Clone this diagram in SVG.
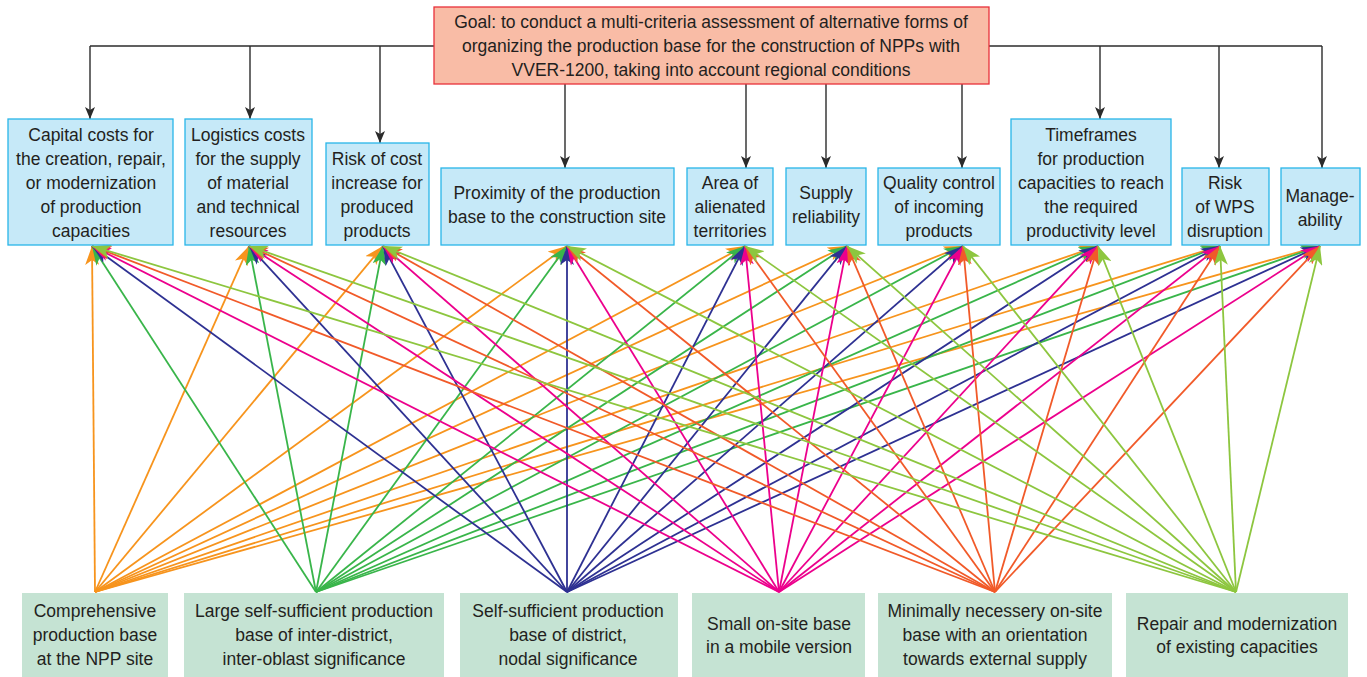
<svg xmlns="http://www.w3.org/2000/svg" width="1367" height="677" viewBox="0 0 1367 677">
<style>
text{font-family:"Liberation Sans",Arial,sans-serif;font-size:17.5px;fill:#231f20;text-anchor:middle}
.goal{fill:#f9bca6;stroke:#e8303a;stroke-width:1.3}
.crit{fill:#c6e9f8;stroke:#29b6e8;stroke-width:1.3}
.alt{fill:#c5e3d3;stroke:none}
.top line{stroke:#2b2b2b;stroke-width:1.4;marker-end:url(#mk)}
.top .nm{marker-end:none}
.l{stroke-width:1.8;fill:none}
.or{stroke:#f7941d;marker-end:url(#m-or)}
.gr{stroke:#39b54a;marker-end:url(#m-gr)}
.nv{stroke:#2e3192;marker-end:url(#m-nv)}
.mg{stroke:#ec008c;marker-end:url(#m-mg)}
.rd{stroke:#f15a29;marker-end:url(#m-rd)}
.yg{stroke:#8dc63f;marker-end:url(#m-yg)}
</style>
<defs>
<marker id="mk" markerUnits="userSpaceOnUse" markerWidth="13" markerHeight="10" refX="12" refY="5" orient="auto"><path d="M0,0 L12,5 L0,10 L3,5 z" fill="#2b2b2b"/></marker>
<marker id="m-or" markerUnits="userSpaceOnUse" markerWidth="20" markerHeight="14" refX="19" refY="7" orient="auto"><path d="M0,0 L19,7 L0,14 L5,7 z" fill="#f7941d"/></marker>
<marker id="m-gr" markerUnits="userSpaceOnUse" markerWidth="20" markerHeight="14" refX="19" refY="7" orient="auto"><path d="M0,0 L19,7 L0,14 L5,7 z" fill="#39b54a"/></marker>
<marker id="m-nv" markerUnits="userSpaceOnUse" markerWidth="20" markerHeight="14" refX="19" refY="7" orient="auto"><path d="M0,0 L19,7 L0,14 L5,7 z" fill="#2e3192"/></marker>
<marker id="m-mg" markerUnits="userSpaceOnUse" markerWidth="20" markerHeight="14" refX="19" refY="7" orient="auto"><path d="M0,0 L19,7 L0,14 L5,7 z" fill="#ec008c"/></marker>
<marker id="m-rd" markerUnits="userSpaceOnUse" markerWidth="20" markerHeight="14" refX="19" refY="7" orient="auto"><path d="M0,0 L19,7 L0,14 L5,7 z" fill="#f15a29"/></marker>
<marker id="m-yg" markerUnits="userSpaceOnUse" markerWidth="20" markerHeight="14" refX="19" refY="7" orient="auto"><path d="M0,0 L19,7 L0,14 L5,7 z" fill="#8dc63f"/></marker>
</defs>
<rect width="1367" height="677" fill="#ffffff"/>

<g id="connectors">
<g class="top">
<line class="nm" x1="90" y1="46" x2="434" y2="46"/>
<line class="nm" x1="989" y1="46" x2="1322" y2="46"/>
<line x1="90" y1="46" x2="90" y2="119"/>
<line x1="250" y1="46" x2="250" y2="119"/>
<line x1="380" y1="46" x2="380" y2="143"/>
<line x1="1100" y1="46" x2="1100" y2="119"/>
<line x1="1219" y1="46" x2="1219" y2="168"/>
<line x1="1322" y1="46" x2="1322" y2="168"/>
<line x1="565" y1="84" x2="565" y2="168"/>
<line x1="746" y1="84" x2="746" y2="168"/>
<line x1="826" y1="84" x2="826" y2="168"/>
<line x1="962" y1="84" x2="962" y2="168"/>
</g>
<g class="l or">
<line x1="95" y1="592" x2="92" y2="246"/>
<line x1="95" y1="592" x2="249" y2="246"/>
<line x1="95" y1="592" x2="383" y2="246"/>
<line x1="95" y1="592" x2="567" y2="246"/>
<line x1="95" y1="592" x2="745" y2="246"/>
<line x1="95" y1="592" x2="847" y2="246"/>
<line x1="95" y1="592" x2="963" y2="246"/>
<line x1="95" y1="592" x2="1098" y2="246"/>
<line x1="95" y1="592" x2="1220" y2="246"/>
<line x1="95" y1="592" x2="1320" y2="246"/>
</g>
<g class="l gr">
<line x1="316" y1="592" x2="92" y2="246"/>
<line x1="316" y1="592" x2="249" y2="246"/>
<line x1="316" y1="592" x2="383" y2="246"/>
<line x1="316" y1="592" x2="567" y2="246"/>
<line x1="316" y1="592" x2="745" y2="246"/>
<line x1="316" y1="592" x2="847" y2="246"/>
<line x1="316" y1="592" x2="963" y2="246"/>
<line x1="316" y1="592" x2="1098" y2="246"/>
<line x1="316" y1="592" x2="1220" y2="246"/>
<line x1="316" y1="592" x2="1320" y2="246"/>
</g>
<g class="l nv">
<line x1="567" y1="592" x2="92" y2="246"/>
<line x1="567" y1="592" x2="249" y2="246"/>
<line x1="567" y1="592" x2="383" y2="246"/>
<line x1="567" y1="592" x2="567" y2="246"/>
<line x1="567" y1="592" x2="745" y2="246"/>
<line x1="567" y1="592" x2="847" y2="246"/>
<line x1="567" y1="592" x2="963" y2="246"/>
<line x1="567" y1="592" x2="1098" y2="246"/>
<line x1="567" y1="592" x2="1220" y2="246"/>
<line x1="567" y1="592" x2="1320" y2="246"/>
</g>
<g class="l mg">
<line x1="779" y1="592" x2="92" y2="246"/>
<line x1="779" y1="592" x2="249" y2="246"/>
<line x1="779" y1="592" x2="383" y2="246"/>
<line x1="779" y1="592" x2="567" y2="246"/>
<line x1="779" y1="592" x2="745" y2="246"/>
<line x1="779" y1="592" x2="847" y2="246"/>
<line x1="779" y1="592" x2="963" y2="246"/>
<line x1="779" y1="592" x2="1098" y2="246"/>
<line x1="779" y1="592" x2="1220" y2="246"/>
<line x1="779" y1="592" x2="1320" y2="246"/>
</g>
<g class="l rd">
<line x1="995" y1="592" x2="92" y2="246"/>
<line x1="995" y1="592" x2="249" y2="246"/>
<line x1="995" y1="592" x2="383" y2="246"/>
<line x1="995" y1="592" x2="567" y2="246"/>
<line x1="995" y1="592" x2="745" y2="246"/>
<line x1="995" y1="592" x2="847" y2="246"/>
<line x1="995" y1="592" x2="963" y2="246"/>
<line x1="995" y1="592" x2="1098" y2="246"/>
<line x1="995" y1="592" x2="1220" y2="246"/>
<line x1="995" y1="592" x2="1320" y2="246"/>
</g>
<g class="l yg">
<line x1="1236" y1="592" x2="92" y2="246"/>
<line x1="1236" y1="592" x2="249" y2="246"/>
<line x1="1236" y1="592" x2="383" y2="246"/>
<line x1="1236" y1="592" x2="567" y2="246"/>
<line x1="1236" y1="592" x2="745" y2="246"/>
<line x1="1236" y1="592" x2="847" y2="246"/>
<line x1="1236" y1="592" x2="963" y2="246"/>
<line x1="1236" y1="592" x2="1098" y2="246"/>
<line x1="1236" y1="592" x2="1220" y2="246"/>
<line x1="1236" y1="592" x2="1320" y2="246"/>
</g>
</g>

<g id="goal">
<rect class="goal" x="434" y="7" width="555" height="77"/>
<text x="711" y="28">Goal: to conduct a multi-criteria assessment of alternative forms of</text>
<text x="711" y="52">organizing the production base for the construction of NPPs with</text>
<text x="711" y="76">VVER-1200, taking into account regional conditions</text>
</g>

<g id="crit-capital">
<rect class="crit" x="8" y="119" width="165" height="126"/>
<text x="91" y="141">Capital costs for</text>
<text x="91" y="165">the creation, repair,</text>
<text x="91" y="189">or modernization</text>
<text x="91" y="213">of production</text>
<text x="91" y="237">capacities</text>
</g>
<g id="crit-logistics">
<rect class="crit" x="185" y="119" width="127" height="126"/>
<text x="248" y="141">Logistics costs</text>
<text x="248" y="165">for the supply</text>
<text x="248" y="189">of material</text>
<text x="248" y="213">and technical</text>
<text x="248" y="237">resources</text>
</g>
<g id="crit-risk-cost">
<rect class="crit" x="326" y="143" width="103" height="102"/>
<text x="377" y="165">Risk of cost</text>
<text x="377" y="189">increase for</text>
<text x="377" y="213">produced</text>
<text x="377" y="237">products</text>
</g>
<g id="crit-proximity">
<rect class="crit" x="441" y="168" width="233" height="77"/>
<text x="557" y="199">Proximity of the production</text>
<text x="557" y="223">base to the construction site</text>
</g>
<g id="crit-area">
<rect class="crit" x="687" y="168" width="86" height="77"/>
<text x="730" y="189">Area of</text>
<text x="730" y="213">alienated</text>
<text x="730" y="237">territories</text>
</g>
<g id="crit-supply">
<rect class="crit" x="786" y="168" width="80" height="77"/>
<text x="826" y="199">Supply</text>
<text x="826" y="223">reliability</text>
</g>
<g id="crit-quality">
<rect class="crit" x="878" y="168" width="122" height="77"/>
<text x="939" y="189">Quality control</text>
<text x="939" y="213">of incoming</text>
<text x="939" y="237">products</text>
</g>
<g id="crit-timeframes">
<rect class="crit" x="1011" y="119" width="160" height="126"/>
<text x="1091" y="141">Timeframes</text>
<text x="1091" y="165">for production</text>
<text x="1091" y="189">capacities to reach</text>
<text x="1091" y="213">the required</text>
<text x="1091" y="237">productivity level</text>
</g>
<g id="crit-wps">
<rect class="crit" x="1182" y="168" width="87" height="77"/>
<text x="1225" y="189">Risk</text>
<text x="1225" y="213">of WPS</text>
<text x="1225" y="237">disruption</text>
</g>
<g id="crit-manage">
<rect class="crit" x="1281" y="168" width="79" height="77"/>
<text x="1320" y="202">Manage-</text>
<text x="1320" y="226">ability</text>
</g>

<g id="alt-comprehensive">
<rect class="alt" x="22" y="593" width="146" height="84"/>
<text x="95" y="617">Comprehensive</text>
<text x="95" y="641">production base</text>
<text x="95" y="665">at the NPP site</text>
</g>
<g id="alt-large">
<rect class="alt" x="184" y="593" width="260" height="84"/>
<text x="314" y="617">Large self-sufficient production</text>
<text x="314" y="641">base of inter-district,</text>
<text x="314" y="665">inter-oblast significance</text>
</g>
<g id="alt-district">
<rect class="alt" x="460" y="593" width="218" height="84"/>
<text x="568" y="617">Self-sufficient production</text>
<text x="568" y="641">base of district,</text>
<text x="568" y="665">nodal significance</text>
</g>
<g id="alt-small">
<rect class="alt" x="692" y="593" width="173" height="84"/>
<text x="779" y="630">Small on-site base</text>
<text x="779" y="653">in a mobile version</text>
</g>
<g id="alt-minimal">
<rect class="alt" x="878" y="593" width="234" height="84"/>
<text x="995" y="617">Minimally necessery on-site</text>
<text x="995" y="641">base with an orientation</text>
<text x="995" y="665">towards external supply</text>
</g>
<g id="alt-repair">
<rect class="alt" x="1126" y="593" width="222" height="84"/>
<text x="1237" y="630">Repair and modernization</text>
<text x="1237" y="653">of existing capacities</text>
</g>
</svg>
